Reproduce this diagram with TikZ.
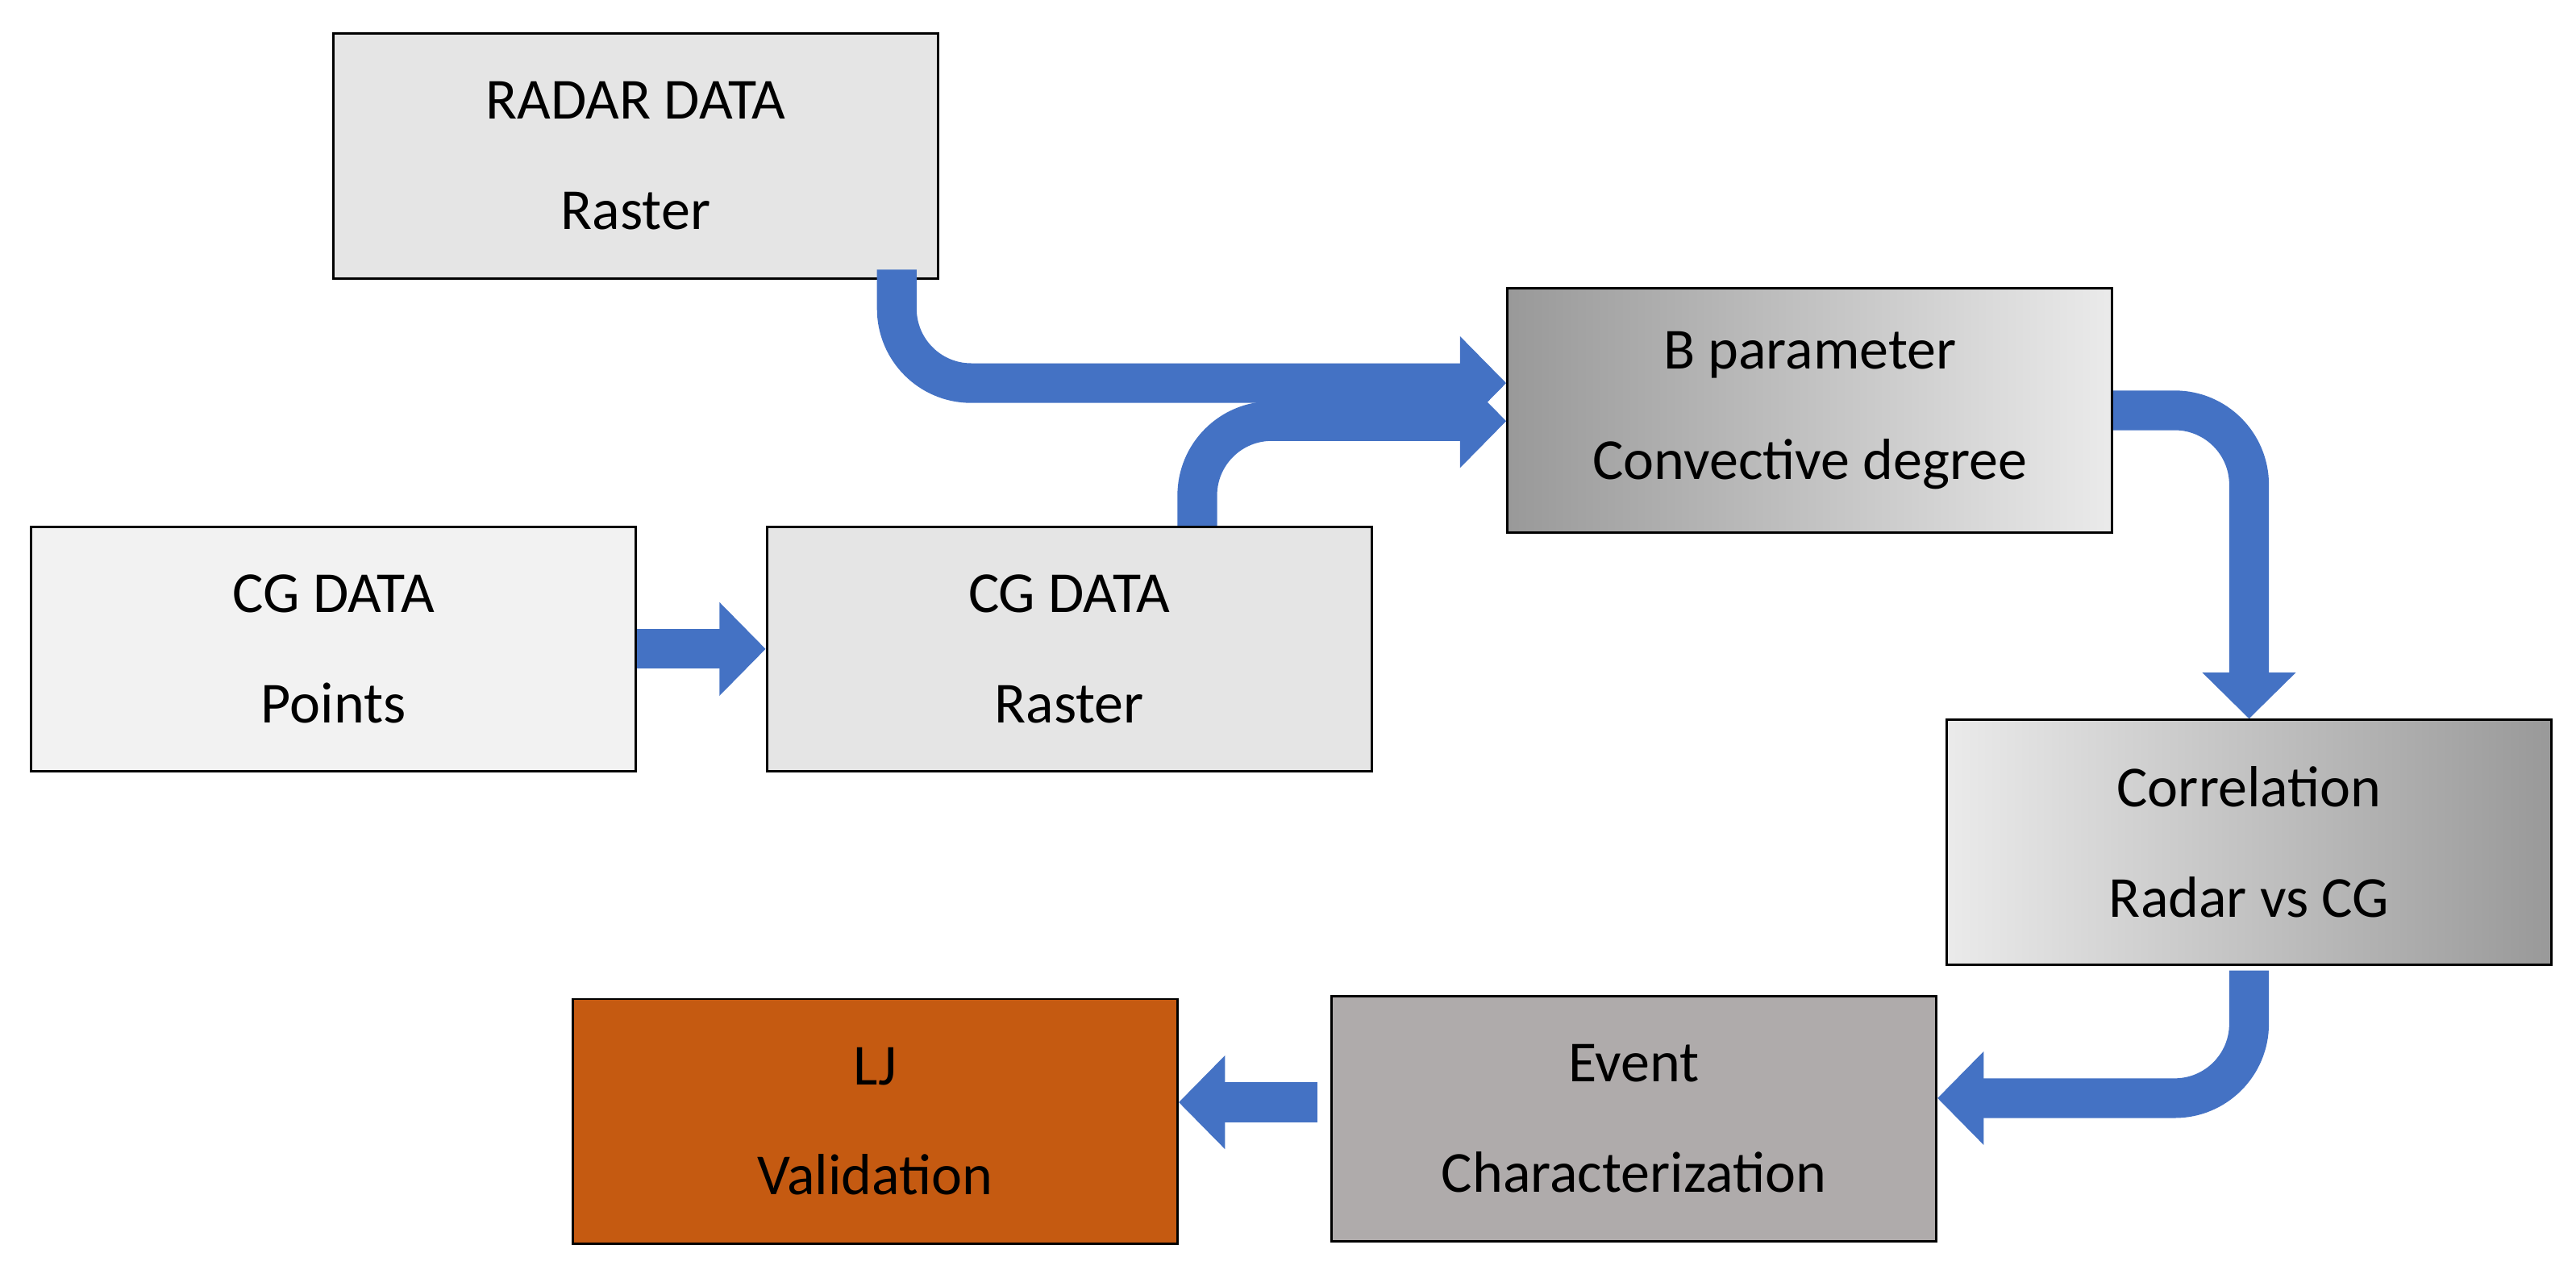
\documentclass[tikz,border=0pt]{standalone}
\usepackage{fontspec}
\setmainfont{Carlito}
\usetikzlibrary{arrows.meta, positioning, calc}
\definecolor{flowblue}{HTML}{4472C4}
\definecolor{ljorange}{HTML}{C55A11}
\definecolor{eventgray}{HTML}{AFABAB}
\tikzstyle{block} = [rectangle, minimum width=3.66cm, minimum height=1.48cm, text centered, align=center, draw=black, font=\fontsize{10}{19}\selectfont]
\tikzstyle{flow} = [line width=0.24cm, draw=flowblue, rounded corners=0.45cm, -{Triangle[width=0.55cm, length=0.28cm]}]

\begin{document}
\begin{tikzpicture}[x=0.01cm, y=-0.01cm]
    \useasboundingbox (0,0) rectangle (1560,771);
    \node (radar) [block, fill=black!10] at (385,94.5) {RADAR DATA\\Raster};
    \node (cgp) [block, fill=black!5] at (202,393) {CG DATA\\Points};
    \node (cgr) [block, fill=black!10] at (647.5,393) {CG DATA\\Raster};
    \node (bparam) [block, left color=black!40, right color=black!8] at (1096,248.5) {B parameter\\Convective degree};
    \node (corr) [block, left color=black!8, right color=black!40] at (1362,510) {Correlation\\Radar vs CG};
    \node (event) [block, fill=eventgray] at (989.5,677.5) {Event\\Characterization};
    \node (lj) [block, fill=ljorange] at (530,679) {LJ\\Validation};

    \draw [flow] ([xshift=0.775cm]cgr.north) |- ([yshift=-0.065cm]bparam.west);
    \draw [flow] ([xshift=1.58cm, yshift=0.06cm]radar.south) |- ([yshift=0.165cm]bparam.west);
    \draw [flow] (cgp.east) -- (cgr.west);
    \draw [flow] (bparam.east) -| (corr.north);
    \draw [flow] ([yshift=-0.03cm]corr.south) |- ([yshift=0.125cm]event.east);
    \draw [flow] ([xshift=-0.08cm, yshift=0.1cm]event.west) -- ([yshift=0.1cm]event.west -| lj.east);
\end{tikzpicture}
\end{document}
